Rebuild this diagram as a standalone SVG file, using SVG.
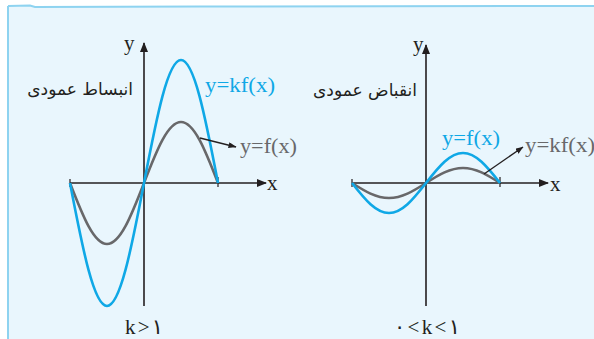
<svg xmlns="http://www.w3.org/2000/svg" width="594" height="339" viewBox="0 0 594 339">
<defs>
<marker id="ah" viewBox="0 0 10 8" refX="9" refY="4" markerWidth="10" markerHeight="8" markerUnits="userSpaceOnUse" orient="auto"><path d="M0,0 L10,4 L0,8 Z" fill="#231f20"/></marker>
<marker id="sh" viewBox="0 0 8 6" refX="7.5" refY="3" markerWidth="8" markerHeight="6" markerUnits="userSpaceOnUse" orient="auto"><path d="M0,0 L8,3 L0,6 Z" fill="#231f20"/></marker>
</defs>
<style>
.axis{stroke:#231f20;stroke-width:1.6;fill:none}
.tick{stroke:#231f20;stroke-width:1.2}
.blue{stroke:#0fa8e6;stroke-width:2.6;fill:none}
.gray{stroke:#68686a;stroke-width:2.6;fill:none}
.ptr{stroke:#231f20;stroke-width:1.3;fill:none}
.lat{font-family:"Liberation Serif","DejaVu Sans",serif;font-size:21px}
.fa{font-family:"DejaVu Sans",sans-serif;font-size:17px;fill:#231f20}
</style>
<rect x="0" y="0" width="594" height="339" fill="#ffffff"/>
<rect x="8" y="6" width="586" height="333" fill="#e9f6fd"/>
<path d="M8,6 L30,5.5 L35,7 L200,6.5 L594,6" stroke="#8ed3f0" stroke-width="2" fill="none"/>
<path d="M8,6 L8,339" stroke="#8ed3f0" stroke-width="2" fill="none"/>

<g id="graph-left">
<line class="axis" x1="70" y1="183" x2="266" y2="183" marker-end="url(#ah)"/>
<line class="axis" x1="144" y1="306" x2="144" y2="43" marker-end="url(#ah)"/>
<line class="tick" x1="218" y1="177" x2="218" y2="187"/>
<line class="tick" x1="70" y1="179" x2="70" y2="187"/>
<path class="gray" d="M70,183 C83,216.7 94,244 107,244 C120,244 131,216.7 144,183 C157,149.3 168,122 181,122 C194,122 205,149.3 218,183"/>
<path class="blue" d="M70,183 C83,250.9 94,306 107,306 C120,306 131,250.9 144,183 C157,115.1 168,60 181,60 C194,60 205,115.1 218,183"/>
<text class="lat" x="124" y="50" fill="#231f20">y</text>
<text class="lat" x="267" y="190" fill="#231f20">x</text>
<text class="lat" x="205" y="92" fill="#0fa8e6" textLength="70" lengthAdjust="spacingAndGlyphs">y=kf(x)</text>
<text class="lat" x="240" y="153" fill="#68686a" textLength="57" lengthAdjust="spacingAndGlyphs">y=f(x)</text>
<text class="fa" x="133" y="95" text-anchor="end">انبساط عمودی</text>
<text class="lat" x="125" y="334" fill="#231f20" textLength="38" lengthAdjust="spacing">k&gt;۱</text>
</g>

<g id="graph-right">
<line class="axis" x1="352" y1="183" x2="548" y2="183" marker-end="url(#ah)"/>
<line class="axis" x1="426" y1="306" x2="426" y2="45" marker-end="url(#ah)"/>
<line class="tick" x1="500" y1="177" x2="500" y2="187"/>
<line class="tick" x1="352" y1="179" x2="352" y2="187"/>
<path class="gray" d="M352,183 C365,191.3 376,198 389,198 C402,198 413,191.3 426,183 C439,174.7 450,168 463,168 C476,168 487,174.7 500,183"/>
<path class="blue" d="M352,183 C365,199.6 376,213 389,213 C402,213 413,199.6 426,183 C439,166.4 450,153 463,153 C476,153 487,166.4 500,183"/>
<text class="lat" x="413" y="51" fill="#231f20">y</text>
<text class="lat" x="550" y="191" fill="#231f20">x</text>
<text class="lat" x="442" y="145" fill="#0fa8e6" textLength="58" lengthAdjust="spacingAndGlyphs">y=f(x)</text>
<text class="lat" x="525" y="152" fill="#68686a" textLength="70" lengthAdjust="spacingAndGlyphs">y=kf(x)</text>
<text class="fa" x="417" y="96" text-anchor="end">انقباض عمودی</text>
<text class="lat" x="394" y="334" fill="#231f20" textLength="66" lengthAdjust="spacing">۰&lt;k&lt;۱</text>
</g>

<g id="connectors">
<line class="ptr" x1="200" y1="138" x2="236" y2="147" marker-end="url(#sh)"/>
<line class="ptr" x1="484" y1="174" x2="523" y2="147" marker-end="url(#sh)"/>
</g>
</svg>
